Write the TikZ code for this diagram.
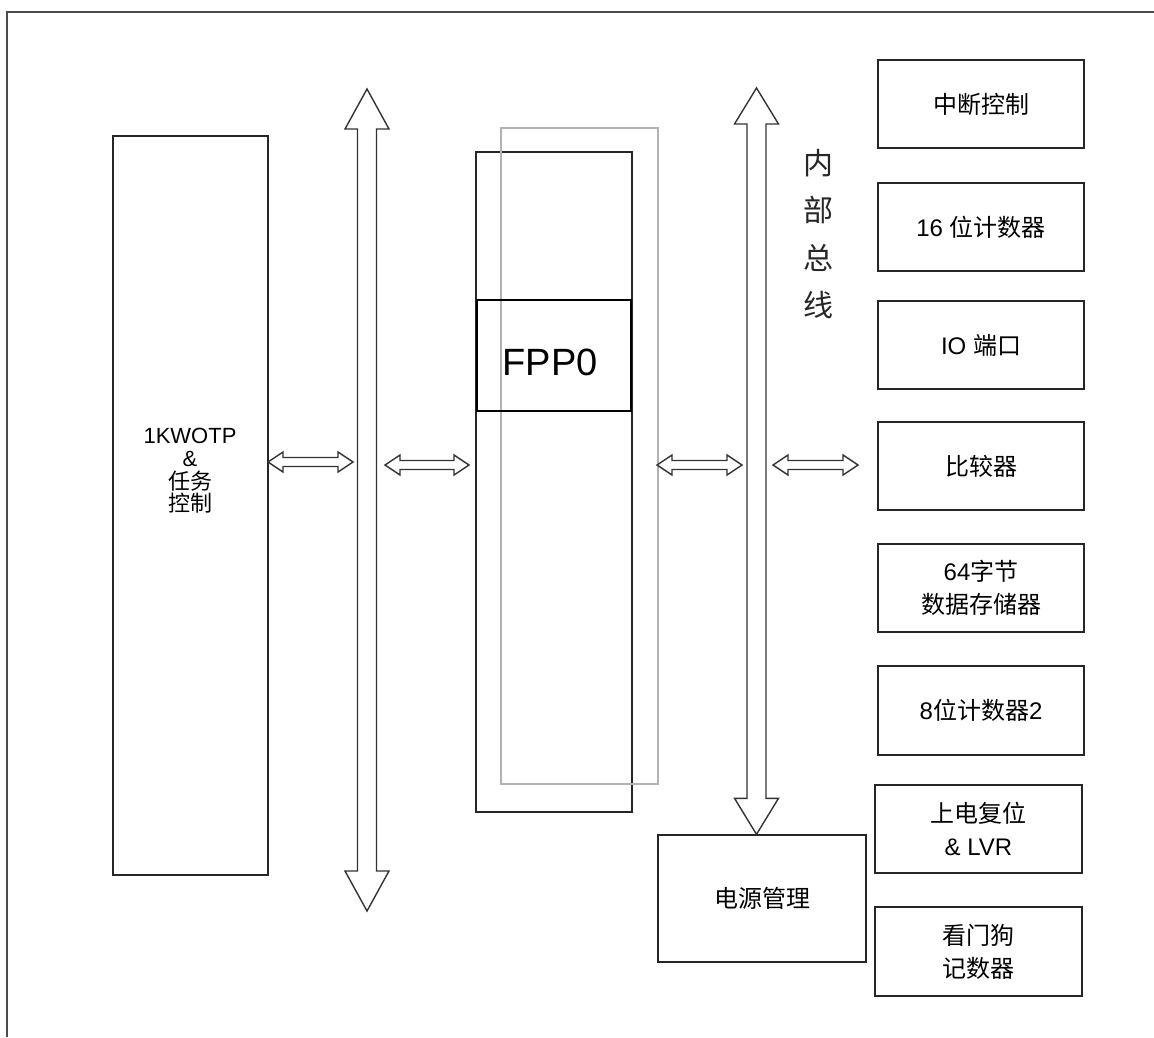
\documentclass[tikz,border=0pt]{standalone}
\usepackage{fontspec}
\setmainfont{Liberation Sans}
\newfontfamily\cjk{Noto Sans CJK SC}
\begin{document}
\begin{tikzpicture}[x=1pt,y=-1pt,
  box/.style={draw=black!85,line width=1.4pt,inner sep=0pt,outer sep=0pt,align=center,font=\fontsize{24}{33}\selectfont},
  fpp/.style={draw=black,line width=2.8pt,inner sep=0pt,outer sep=0pt,font=\fontsize{38}{40}\selectfont},
  ghost/.style={draw=black!30,line width=1.4pt,inner sep=0pt,outer sep=0pt},
  blockarrow/.style={draw=black!80,line width=1.4pt,fill=white,line join=miter},
  frame/.style={draw=black!70,line width=2pt}]
\useasboundingbox (0,0) rectangle (1154,1037);
\fill[white] (0,0) rectangle (1154,1037);
% outer frame (cut by the page)
\draw[frame] (7,1037) -- (7,12) -- (1154,12);

% left memory box
\node[box,minimum width=155,minimum height=739] (otp) at (190.5,505.5) {};
\node[font=\fontsize{22}{22.7}\selectfont,align=center] (otptext) at (190,471) {1KWOTP\\\&\\{\cjk 任务}\\{\cjk 控制}};

% CPU column
\node[box,minimum width=156,minimum height=660] (cpu) at (554,482) {};
\node[ghost,minimum width=157,minimum height=656] (ghostbox) at (579.5,456) {};
\node[fpp,minimum width=154,minimum height=111] (fpp) at (554,355.5) {};
\node[font=\fontsize{38}{40}\selectfont] (fpptext) at (550,362) {FPP0};

% right peripherals
\node[box,minimum width=206,minimum height=88] (int) at (981,104) {\cjk 中断控制};
\node[box,minimum width=206,minimum height=88] (t16) at (981,227) {16 {\cjk 位计数器}};
\node[box,minimum width=206,minimum height=88] (io) at (981,345) {IO {\cjk 端口}};
\node[box,minimum width=206,minimum height=88] (cmp) at (981,466) {\cjk 比较器};
\node[box,minimum width=206,minimum height=88] (ram) at (981,588) {64{\cjk 字节}\\{\cjk 数据存储器}};
\node[box,minimum width=206,minimum height=89] (t8) at (981,710.5) {8{\cjk 位计数器}2};
\node[box,minimum width=207,minimum height=88] (por) at (978.5,829) {{\cjk 上电复位}\\\& LVR};
\node[box,minimum width=207,minimum height=89] (wdt) at (978.5,951.5) {{\cjk 看门狗}\\{\cjk 记数器}};
\node[box,minimum width=208,minimum height=127] (pwr) at (762,898.5) {\cjk 电源管理};

% bus label
\node[font=\fontsize{30}{47.5}\selectfont\cjk,align=center,text=black!85] (buslabel) at (818,234) {内\\部\\总\\线};

% vertical bus arrows: x, y of top tip, y of bottom tip, head length
\newcommand\vdarrow[4]{%
  \draw[blockarrow] (#1,#2) -- (#1+22,#2+#4) -- (#1+9.5,#2+#4) -- (#1+9.5,#3-#4) -- (#1+22,#3-#4)
   -- (#1,#3) -- (#1-22,#3-#4) -- (#1-9.5,#3-#4) -- (#1-9.5,#2+#4) -- (#1-22,#2+#4) -- cycle;}
\vdarrow{367}{89}{911}{40}
\vdarrow{756.5}{88}{834.3}{36}

% horizontal double arrows: x of left tip, x of right tip, y
\newcommand\hdarrow[3]{%
  \draw[blockarrow] (#1,#3) -- (#1+15,#3-10) -- (#1+15,#3-4.5) -- (#2-15,#3-4.5) -- (#2-15,#3-10)
   -- (#2,#3) -- (#2-15,#3+10) -- (#2-15,#3+4.5) -- (#1+15,#3+4.5) -- (#1+15,#3+10) -- cycle;}
\hdarrow{268}{353}{462}
\hdarrow{385}{469}{465}
\hdarrow{657}{742}{465}
\hdarrow{773}{858}{465}
\end{tikzpicture}
\end{document}
